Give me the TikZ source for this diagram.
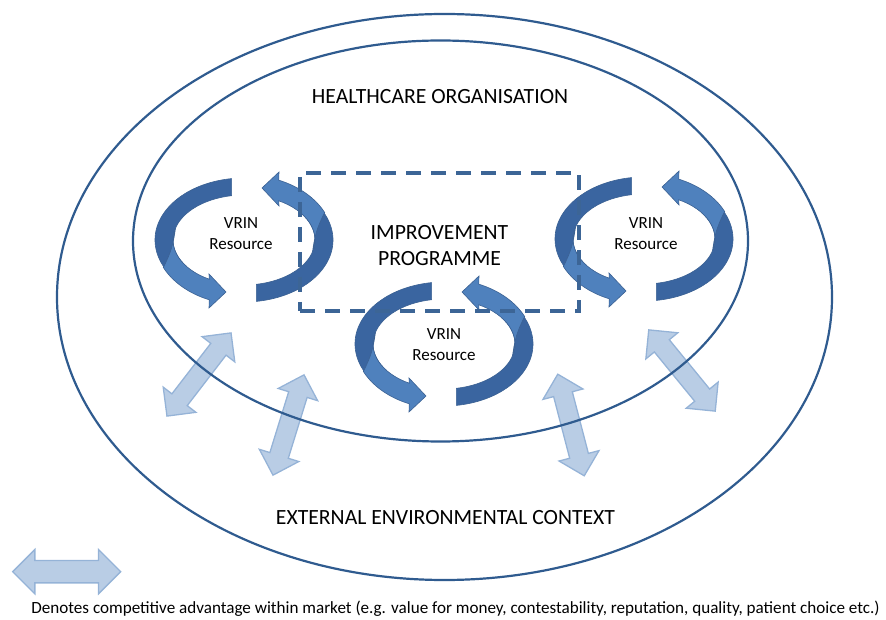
\documentclass[tikz,border=0pt]{standalone}
\usepackage{fontspec}
\setmainfont{Carlito}
\usetikzlibrary{shapes.arrows}

\definecolor{ringblue}{HTML}{2F5B8F}
\definecolor{boxblue}{HTML}{3C6596}
\definecolor{facelight}{HTML}{4F81BD}
\definecolor{facedark}{HTML}{3A65A0}
\definecolor{faceline}{HTML}{3B6193}
\definecolor{mktfill}{HTML}{B9CDE5}
\definecolor{mktline}{HTML}{95B3D7}

\tikzset{
  ring/.style={draw=ringblue, line width=2.2pt},
  programme box/.style={draw=boxblue, line width=3.2pt, dash pattern=on 15pt off 10pt,
    minimum width=279pt, minimum height=138pt, align=center, text height=47.5pt,
    font=\fontsize{21.7}{26}\selectfont},
  market arrow/.style={double arrow, draw=mktline, fill=mktfill, line width=1.3pt,
    inner xsep=0pt, inner ysep=9pt, double arrow head extend=11pt, minimum height=105pt},
  vrin label/.style={align=center, font=\fontsize{17}{21}\selectfont},
  big label/.style={font=\fontsize{21.7}{26}\selectfont},
  back face/.style={fill=facedark, draw=faceline, line width=0.6pt},
  front face/.style={fill=facelight, draw=faceline, line width=0.6pt},
  pics/vrin loop/.style={code={
    \foreach \r in {0,180} {
      \begin{scope}[rotate=\r]
        \path[back face] (98:89 and 62) arc[start angle=98, end angle=215, x radius=89, y radius=62]
          -- (215:71 and 45) arc[start angle=215, end angle=100, x radius=71, y radius=45] -- cycle;
        \path[front face] (165:71 and 45) to[bend left=10] (205:89 and 65)
          arc[start angle=205, end angle=247, x radius=89, y radius=65]
          -- (-35,-68) -- (-18,-52) -- (-35,-34) -- (-34.78,-39.23)
          arc[start angle=240.67, end angle=165, x radius=71, y radius=45] -- cycle;
      \end{scope}
    }
  }}
}

\begin{document}
\begin{tikzpicture}[x=1pt, y=1pt]

    \useasboundingbox (0,0) rectangle (886,619);

    \foreach \n/\x/\y/\a in {a/199/244.5/52.4, b/288.5/194/72.8, c/571/194/104.6, d/682/248.5/129.3}
      \node [market arrow, rotate=\a] (market-\n) at (\x,\y) {};

    \draw [ring] (444.5,322) ellipse [x radius=387.5, y radius=283];
    \draw [ring] (440.5,378) ellipse [x radius=307.5, y radius=200.5];

    \foreach \x/\y in {244/379, 444/275, 644/380}
      \pic at (\x,\y) {vrin loop};

    \foreach \n/\x/\y in {left/241/385.5, mid/444/274.5, right/646/385.5}
      \node [vrin label] (vrin-\n) at (\x,\y) {VRIN\\Resource};

    \node [programme box] (programme) at (439.5,377) {IMPROVEMENT\\PROGRAMME};

    \node [big label] (org) at (440,522.5) {HEALTHCARE ORGANISATION};
    \node [big label] (context) at (445.5,101) {EXTERNAL ENVIRONMENTAL CONTEXT};

    \node [market arrow, inner ysep=10.5pt, minimum height=108pt] (legend) at (66.7,47.3) {};
    \node [anchor=base, font=\fontsize{17.1}{20}\selectfont] (key) at (455.5,5.5)
      {Denotes competitive advantage within market (e.g. value for money, contestability, reputation, quality, patient choice etc.)};

\end{tikzpicture}
\end{document}
